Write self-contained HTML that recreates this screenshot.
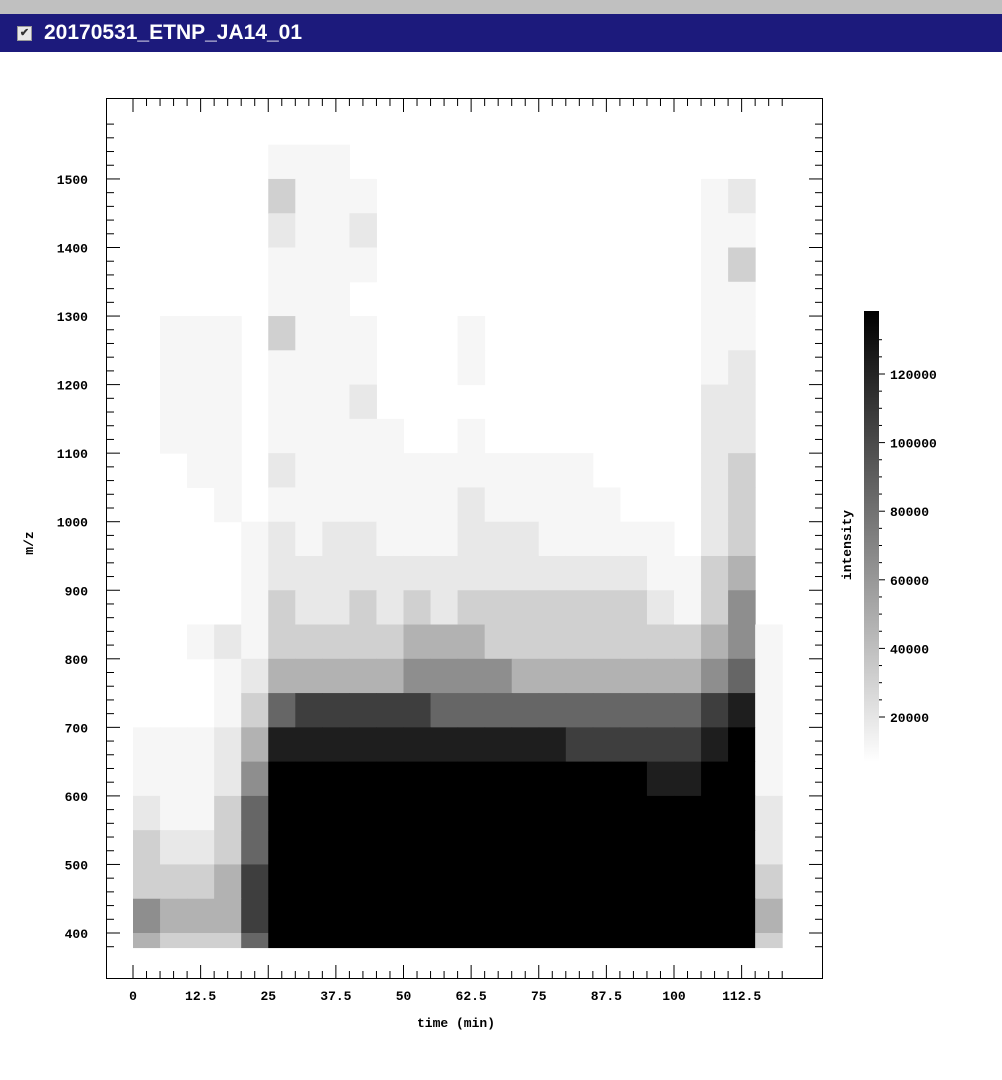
<!DOCTYPE html>
<html><head><meta charset="utf-8"><style>
body{margin:0;width:1002px;height:1080px;background:#fff;overflow:hidden;font-family:"Liberation Sans",sans-serif}
#top{position:absolute;left:0;top:0;width:1002px;height:14px;background:#c0c0c0}
#bar{position:absolute;left:0;top:14px;width:1002px;height:38px;background:#1c1a7c;color:#fff;font-weight:bold;font-size:21px;line-height:38px}
#cb{position:absolute;left:17px;top:12px;width:13px;height:13px;background:#e8e8e8;border:1px solid #999;color:#333;font-size:11px;line-height:13px;text-align:center}
#title{position:absolute;left:44px;top:0}
svg{position:absolute;left:0;top:0}
text{font-family:"Liberation Mono",monospace;font-weight:bold;font-size:13px;fill:#000}
</style></head><body>
<div id="top"></div>
<div id="bar"><div id="cb">✔</div><span id="title">20170531_ETNP_JA14_01</span></div>
<svg id="chart" width="1002" height="1080">
<defs><linearGradient id="g" x1="0" y1="1" x2="0" y2="0"><stop offset="0" stop-color="#fff"/><stop offset="1" stop-color="#000"/></linearGradient></defs>
</svg>
<script>
const timeBins=[0,5,10,15,20,25,30,35,40,45,50,55,60,65,70,75,80,85,90,95,100,105,110,115];
const mzBins=[1525,1475,1425,1375,1325,1275,1225,1175,1125,1075,1025,975,925,875,825,775,725,675,625,575,525,475,425,375];
const intensityRows=[
"000001110000000000000000",
"000003111000000000000120",
"000002112000000000000110",
"000001111000000000000130",
"000001110000000000000110",
"011103111000100000000110",
"011101111000100000000120",
"011101112000000000000220",
"011101111100100000000220",
"001102111111111110000230",
"000101111111211111000230",
"000012122111222111110230",
"000012222222222222211340",
"000013223232333333321350",
"001213333344433333333451",
"000124444455554444444561",
"000136777776666666666781",
"111248888888888877777891",
"111259999999999999988991",
"211369999999999999999992",
"322369999999999999999992",
"333479999999999999999993",
"544479999999999999999994",
"433369999999999999999993"];
const xTickLabels=["0","12.5","25","37.5","50","62.5","75","87.5","100","112.5"];
const yTickLabels=[400,500,600,700,800,900,1000,1100,1200,1300,1400,1500];
const cbTickLabels=[20000,40000,60000,80000,100000,120000];
const grayLevels=[255,246,232,208,178,142,102,62,30,0];

const NS="http://www.w3.org/2000/svg";
const svg=document.getElementById('chart');
const xS=t=>133+t*5.41;
const yS=m=>933-(m-400)*0.6855;
const cbY=v=>717-(v-20000)*0.00343;
function mk(tag,a,p){const e=document.createElementNS(NS,tag);for(const k in a)e.setAttribute(k,a[k]);(p||svg).appendChild(e);return e;}

const hm=mk('g',{});


intensityRows.forEach((row,ri)=>{
  const m=mzBins[ri];
  const y0=yS(m+25),y1=yS(m-25);
  timeBins.forEach((t,ci)=>{
    const v=+row[ci]; if(!v) return;
    const g=grayLevels[v];
    const r=mk('rect',{x:xS(t),y:y0,width:xS(t+5)-xS(t)+0.5,height:y1-y0+0.5,fill:`rgb(${g},${g},${g})`},hm);
    
    
  });
});
mk('rect',{x:107,y:yS(378),width:715,height:978-yS(378),fill:'#fff'});

const frame=mk('rect',{x:106.5,y:98.5,width:716,height:880,fill:'none',stroke:'#000','stroke-width':1});



for(let i=0;i<=48;i++){const t=i*2.5;const x=xS(t);const major=i%5===0;const L=major?13:7;
  mk('line',{x1:x,y1:978,x2:x,y2:978-L,stroke:'#000'});
  mk('line',{x1:x,y1:99,x2:x,y2:99+L,stroke:'#000'});}
xTickLabels.forEach((l,i)=>{const t=mk('text',{x:xS(i*12.5),y:1000,'text-anchor':'middle'});t.textContent=l;
  });
for(let m=380;m<=1580;m+=20){const y=yS(m);const major=m%100===0;const L=major?13:7;
  mk('line',{x1:107,y1:y,x2:107+L,y2:y,stroke:'#000'});
  mk('line',{x1:822,y1:y,x2:822-L,y2:y,stroke:'#000'});}
yTickLabels.forEach(v=>{const t=mk('text',{x:88,y:yS(v)+5,'text-anchor':'end'});t.textContent=v;
  });
const xt=mk('text',{x:456,y:1027,'text-anchor':'middle'});xt.textContent='time (min)';

const yt=mk('text',{x:0,y:0,'text-anchor':'middle',transform:'translate(33,543) rotate(-90)'});yt.textContent='m/z';


const cb=mk('rect',{x:864,y:311,width:15,height:451,fill:'url(#g)'});

for(let v=20000;v<=130000;v+=5000){const y=cbY(v);const major=v%20000===0;
  mk('line',{x1:879,y1:y,x2:major?885:882,y2:y,stroke:'#000'});}
cbTickLabels.forEach(v=>{const t=mk('text',{x:890,y:cbY(v)+5});t.textContent=v;
  });
const ct=mk('text',{x:0,y:0,'text-anchor':'middle',transform:'translate(851,545) rotate(-90)'});ct.textContent='intensity';

</script>
</body></html>
